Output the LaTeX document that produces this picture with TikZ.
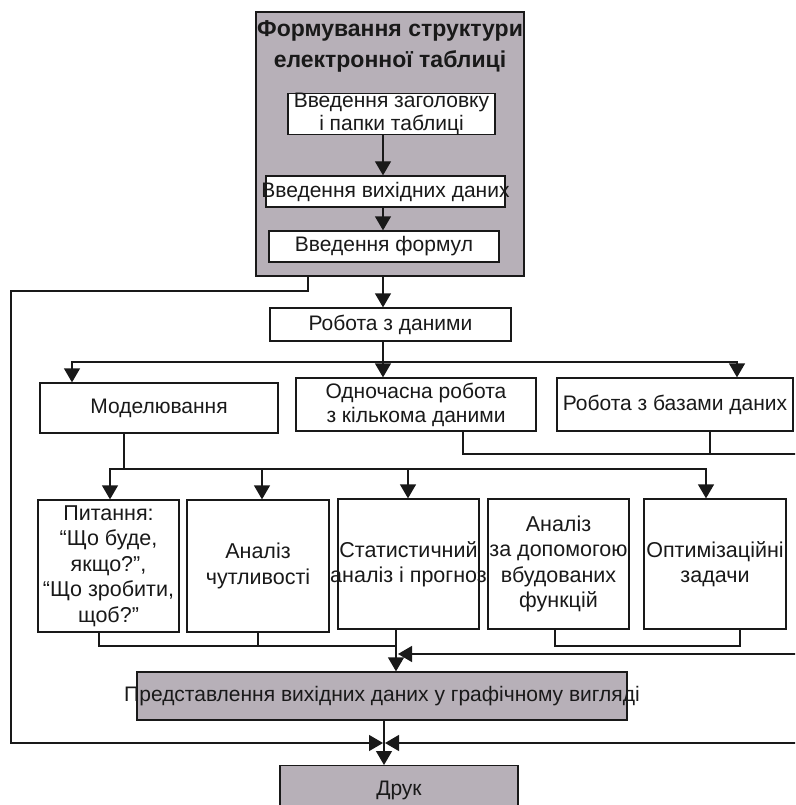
\documentclass[tikz,border=0pt]{standalone}
\usepackage{fontspec}
\setmainfont{Liberation Sans}
\usetikzlibrary{arrows.meta}
\definecolor{grayfill}{RGB}{183,176,184}
\definecolor{ink}{RGB}{25,25,25}
\newcommand{\ovr}[1]{\makebox[0pt]{#1}}
\newcommand{\sq}{\symbol{34}}
\begin{document}
\begin{tikzpicture}[x=1pt,y=-1pt,
  box/.style={draw=ink, line width=1.3pt, fill=white, inner sep=0pt, align=center,
    text=ink, font=\fontsize{21}{23}\selectfont},
  tall/.style={font=\fontsize{21.5}{25.5}\selectfont},
  gbox/.style={box, fill=grayfill},
  conn/.style={line width=1.3pt, draw=ink},
  arr/.style={conn, -{Triangle[length=14pt,width=16pt]}},
]
\useasboundingbox (0,0) rectangle (795,805);
\clip (0,0) rectangle (795,805);
% top block
\node[gbox, minimum width=268pt, minimum height=264pt] (gray) at (390,144) {};
\node[text=ink, font=\bfseries\fontsize{23}{31}\selectfont, align=center] (title) at (390,46)
  {Формування структури\\електронної таблиці};
\node[box, minimum width=207pt, minimum height=40pt] (b1) at (391.5,114) {\ovr{Введення заголовку}\\і папки таблиці};
\node[box, minimum width=239pt, minimum height=31pt] (b2) at (385.5,191.5) {\ovr{Введення вихідних даних}};
\node[box, minimum width=230pt, minimum height=31pt] (b3) at (384,246.5) {Введення формул};
\node[box, minimum width=241pt, minimum height=33pt] (rob) at (390.5,324.5) {Робота з даними};
\node[box, minimum width=238pt, minimum height=50pt] (model) at (159,408) {Моделювання};
\node[box, minimum width=240pt, minimum height=53pt, font=\fontsize{21}{24}\selectfont] (odn) at (416,404.5) {Одночасна робота\\з кількома даними};
\node[box, minimum width=236pt, minimum height=53pt] (baz) at (675,404.5) {\ovr{Робота з базами даних}};
\node[box, tall, minimum width=141pt, minimum height=132pt] (pyt) at (108.5,566) {Питання:\\“Що буде,\\якщо?\sq,\\\ovr{“Що зробити,}\\щоб?\sq};
\node[box, tall, minimum width=142pt, minimum height=132pt] (chut) at (258,566) {Аналіз\\чутливості};
\node[box, tall, minimum width=141pt, minimum height=130pt] (stat) at (408.5,564) {\ovr{Статистичний}\\\ovr{аналіз і прогноз}};
\node[box, tall, minimum width=141pt, minimum height=130pt] (anal) at (558.5,564) {Аналіз\\\ovr{за допомогою}\\вбудованих\\функцій};
\node[box, tall, minimum width=142pt, minimum height=130pt] (opt) at (715,564) {\ovr{Оптимізаційні}\\задачи};
\node[gbox, minimum width=490pt, minimum height=48pt] (pred) at (382,696) {\ovr{Представлення вихідних даних у графічному вигляді}};
\node[gbox, minimum width=238pt, minimum height=50pt, anchor=north] (druk) at (399,765) {Друк};
% coordinates
\coordinate (A) at (383,0);
\coordinate (L1) at (308,291);
\coordinate (LX) at (11,0);
\coordinate (J) at (384,743);
\coordinate (T1) at (383,362);
\coordinate (M) at (72,362);
\coordinate (B) at (737,362);
\coordinate (C1) at (463,454);
\coordinate (C2) at (710,454);
\coordinate (CR) at (800,454);
\coordinate (D) at (124,469);
\coordinate (P1) at (110,469);
\coordinate (P2) at (262,469);
\coordinate (P3) at (408,469);
\coordinate (P4) at (706,469);
\coordinate (Q1) at (99,646);
\coordinate (Q2) at (258,646);
\coordinate (Q3) at (396,646);
\coordinate (R1) at (555,646);
\coordinate (R2) at (740,646);
\coordinate (S1) at (800,654);
\coordinate (S1t) at (398,654);
\coordinate (S2) at (800,743);
% connectors
\draw[arr] (A |- b1.south) -- (A |- b2.north);
\draw[arr] (A |- b2.south) -- (A |- b3.north);
\draw[arr] (A |- gray.south) -- (A |- rob.north);
\draw[arr] (L1 |- gray.south) -- (L1) -- (LX |- L1) -- (LX |- J) -- ([xshift=-1pt]J);
\draw[conn] (A |- rob.south) -- (T1);
\draw[arr] (T1) -- (A |- odn.north);
\draw[arr] (T1) -- (M) -- (M |- model.north);
\draw[arr] (T1) -- (B) -- (B |- baz.north);
\draw[conn] (C1 |- odn.south) -- (C1) -- (CR);
\draw[conn] (C2 |- baz.south) -- (C2);
\draw[conn] (D |- model.south) -- (D);
\draw[arr] (D) -- (P1) -- (P1 |- pyt.north);
\draw[arr] (D) -- (P4) -- (P4 |- opt.north);
\draw[arr] (P2) -- (P2 |- chut.north);
\draw[arr] (P3) -- (P3 |- stat.north);
\draw[conn] (Q1 |- pyt.south) -- (Q1) -- (Q3);
\draw[conn] (Q2 |- chut.south) -- (Q2);
\draw[arr] (Q3 |- stat.south) -- (Q3 |- pred.north);
\draw[conn] (R1 |- anal.south) -- (R1) -- (R2) -- (R2 |- opt.south);
\draw[arr] (S1) -- (S1t);
\draw[arr] (J |- pred.south) -- (J |- druk.north);
\draw[arr] (S2) -- ([xshift=1pt]J);
\end{tikzpicture}
\end{document}
